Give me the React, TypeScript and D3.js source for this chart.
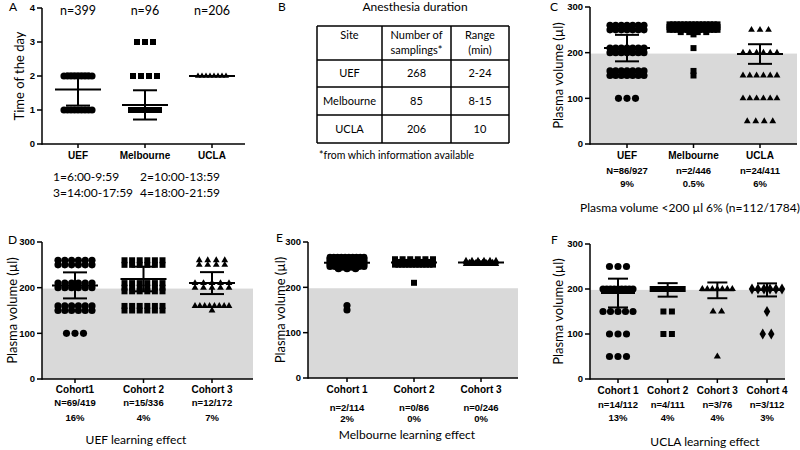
import React from "react";
import * as d3 from "d3";

type Row = [number, number]; // [value, count of points at that value]

// ---------- Panel A: time of the day ----------
const timeSites = ["UEF", "Melbourne", "UCLA"];
const timeN = ["n=399", "n=96", "n=206"];
const timeTicks = [0, 1, 2, 3, 4];
const timeRowsUEF: Row[] = [[1, 9], [2, 9]];
const timeRowsMelb: Row[] = [[1, 11], [2, 4], [3, 3]];
const timeRowsUCLA: Row[] = [[2, 8]];
const timeMeans = [1.6, 1.15, 2.0];
const timeSDs = [0.47, 0.43, 0];
const timeLegend = ["1=6:00-9:59", "2=10:00-13:59", "3=14:00-17:59", "4=18:00-21:59"];

// ---------- Panel B: anesthesia duration table ----------
const tableHeader = [["Site"], ["Number of", "samplings*"], ["Range", "(min)"]];
const tableSites = ["UEF", "Melbourne", "UCLA"];
const tableSamplings = ["268", "85", "206"];
const tableRanges = ["2-24", "8-15", "10"];

// ---------- Shared volume axis ----------
const volumeTicks = [0, 100, 200, 300];
const volumeThreshold = 198;

// ---------- Panel C: plasma volume per site ----------
const siteSites = ["UEF", "Melbourne", "UCLA"];
const siteN = ["N=86/927", "n=2/446", "n=24/411"];
const sitePct = ["9%", "0.5%", "6%"];
const siteRowsUEF: Row[] = [[260, 7], [250, 7], [210, 7], [200, 7], [160, 7], [150, 7], [100, 3]];
const siteRowsMelb: Row[] = [[262, 14], [256, 14], [250, 14], [245, 4], [240, 1], [210, 1], [160, 1], [150, 1]];
const siteRowsUCLA: Row[] = [[250, 3], [200, 6], [150, 6], [100, 6], [50, 4]];
const siteMeans = [210, 254, 197];
const siteSDs = [29, 3, 21.5];

// ---------- Panel D: UEF learning effect ----------
const uefCohorts = ["Cohort1", "Cohort 2", "Cohort 3"];
const uefN = ["N=69/419", "n=15/336", "n=12/172"];
const uefPct = ["16%", "4%", "7%"];
const uefRows1: Row[] = [[260, 6], [250, 6], [210, 6], [200, 6], [160, 6], [150, 6], [100, 3]];
const uefRows2: Row[] = [[260, 6], [250, 6], [210, 6], [200, 6], [192, 6], [160, 6], [150, 6]];
const uefRows3: Row[] = [[260, 4], [250, 4], [210, 5], [200, 5], [160, 8], [150, 1]];
const uefMeans = [205, 219, 210];
const uefSDs = [28.5, 27, 24];

// ---------- Panel E: Melbourne learning effect ----------
const melbCohorts = ["Cohort 1", "Cohort 2", "Cohort 3"];
const melbN = ["n=2/114", "n=0/86", "n=0/246"];
const melbPct = ["2%", "0%", "0%"];
const melbRows1: Row[] = [[266, 10], [261, 11], [256, 11], [251, 11], [246, 8], [241, 3], [160, 1], [150, 1]];
const melbRows2: Row[] = [[262, 6], [256, 12], [250, 12], [210, 1]];
const melbRows3: Row[] = [[259, 6], [255, 10], [251, 10]];
const melbMeans = [254, 255, 255];
const melbSDs = [15, 5, 2];

// ---------- Panel F: UCLA learning effect ----------
const uclaCohorts = ["Cohort 1", "Cohort 2", "Cohort 3", "Cohort 4"];
const uclaN = ["n=14/112", "n=4/111", "n=3/76", "n=3/112"];
const uclaPct = ["13%", "4%", "4%", "3%"];
const uclaRows1: Row[] = [[250, 3], [200, 9], [150, 5], [100, 3], [50, 3]];
const uclaRows2: Row[] = [[200, 8], [150, 2], [100, 2]];
const uclaRows3: Row[] = [[200, 7], [150, 2], [50, 1]];
const uclaRows4: Row[] = [[200, 6], [150, 1], [100, 2]];
const uclaMeans = [191, 198, 197, 198];
const uclaSDs = [32, 15, 17.5, 14.5];

const SANS = "Lato, 'Open Sans', sans-serif";
const BOLD = "'Liberation Sans', Arial, sans-serif";

type Group = { shape: d3.SymbolType; size: number; rows: Row[]; mean: number; sd: number; span?: number };
type PanelCfg = {
  letter: string;
  letterPos: [number, number];
  axisX: number;
  yTop: number;
  yBot: number;
  xEnd: number;
  domain: [number, number];
  ticks: number[];
  catRange: [number, number];
  categories: string[];
  groups: Group[];
  gray?: number;
  labelY: number;
  subLines: { texts: string[]; y: number }[];
  yTitle: string;
  yTitleX: number;
  maxSpan: number;
  maxGap: number;
  meanW: number;
  capW: number;
  title?: { text: string; x: number; y: number };
};

const Panel = ({ c }: { c: PanelCfg }) => {
  const y = d3.scaleLinear().domain(c.domain).range([c.yBot, c.yTop]);
  const x = d3.scalePoint<string>().domain(c.categories).range(c.catRange);
  return (
    <g>
      {c.gray !== undefined && (
        <rect x={c.axisX} y={y(c.gray)} width={c.xEnd - c.axisX} height={c.yBot - y(c.gray)} fill="#d9d9d9" />
      )}
      {c.groups.map((g, gi) => {
        const cx = x(c.categories[gi]) as number;
        const sym = d3.symbol(g.shape, g.size)() as string;
        const span = g.span ?? c.maxSpan;
        return (
          <g key={gi}>
            {g.rows.map(([v, n], ri) => {
              const gap = n > 1 ? Math.min(c.maxGap, span / (n - 1)) : 0;
              return d3.range(n).map((i) => (
                <path key={ri + "-" + i} d={sym} transform={`translate(${cx + (i - (n - 1) / 2) * gap},${y(v)})`} fill="#000" />
              ));
            })}
            <g stroke="#000" strokeWidth={2}>
              <line x1={cx} x2={cx} y1={y(g.mean - g.sd)} y2={y(g.mean + g.sd)} />
              <line x1={cx - c.capW / 2} x2={cx + c.capW / 2} y1={y(g.mean - g.sd)} y2={y(g.mean - g.sd)} />
              <line x1={cx - c.capW / 2} x2={cx + c.capW / 2} y1={y(g.mean + g.sd)} y2={y(g.mean + g.sd)} />
              <line x1={cx - c.meanW / 2} x2={cx + c.meanW / 2} y1={y(g.mean)} y2={y(g.mean)} />
            </g>
          </g>
        );
      })}
      <g stroke="#000" strokeWidth={1.5}>
        <line x1={c.axisX} x2={c.axisX} y1={c.yTop} y2={c.yBot + 0.75} />
        <line x1={c.axisX} x2={c.xEnd} y1={c.yBot} y2={c.yBot} />
        {c.ticks.map((t) => (
          <line key={t} x1={c.axisX - 5} x2={c.axisX} y1={y(t)} y2={y(t)} />
        ))}
        {c.categories.map((k) => (
          <line key={k} x1={x(k)} x2={x(k)} y1={c.yBot} y2={c.yBot + 4} />
        ))}
      </g>
      {c.ticks.map((t) => (
        <text key={t} x={c.axisX - 7} y={y(t)} dy="0.35em" textAnchor="end" fontFamily={BOLD} fontWeight="bold" fontSize={9.5}>
          {t}
        </text>
      ))}
      {c.categories.map((k) => (
        <text key={k} x={x(k)} y={c.labelY} dy="0.35em" textAnchor="middle" fontFamily={BOLD} fontWeight="bold" fontSize={10}>
          {k}
        </text>
      ))}
      {c.subLines.map((s, si) =>
        s.texts.map((t, ti) => (
          <text key={si + "-" + ti} x={x(c.categories[ti])} y={s.y} dy="0.35em" textAnchor="middle" fontFamily={BOLD} fontWeight="bold" fontSize={9.5}>
            {t}
          </text>
        ))
      )}
      <text
        transform={`translate(${c.yTitleX},${(c.yTop + c.yBot) / 2}) rotate(-90)`}
        textAnchor="middle"
        dy="0.35em"
        fontFamily={SANS}
        fontSize={13}
      >
        {c.yTitle}
      </text>
      <text x={c.letterPos[0]} y={c.letterPos[1]} dy="0.35em" fontFamily={SANS} fontSize={12}>
        {c.letter}
      </text>
      {c.title && (
        <text x={c.title.x} y={c.title.y} dy="0.35em" textAnchor="middle" fontFamily={SANS} fontSize={12}>
          {c.title.text}
        </text>
      )}
    </g>
  );
};

const circle = d3.symbolCircle;
const square = d3.symbolSquare;
const triangle = d3.symbolTriangle;
const diamond = d3.symbolDiamond;

const mk = (shape: d3.SymbolType, size: number, rows: Row[], mean: number, sd: number, span?: number): Group => ({
  shape,
  size,
  rows,
  mean,
  sd,
  span,
});

const panelA: PanelCfg = {
  letter: "A",
  letterPos: [9, 7],
  axisX: 42,
  yTop: 8,
  yBot: 144,
  xEnd: 245,
  domain: [0, 4],
  ticks: timeTicks,
  catRange: [78, 212],
  categories: timeSites,
  groups: [
    mk(circle, 40, timeRowsUEF, timeMeans[0], timeSDs[0]),
    mk(square, 36, timeRowsMelb, timeMeans[1], timeSDs[1]),
    mk(triangle, 16, timeRowsUCLA, timeMeans[2], timeSDs[2]),
  ],
  labelY: 155,
  subLines: [],
  yTitle: "Time of the day",
  yTitleX: 19,
  maxSpan: 28,
  maxGap: 8,
  meanW: 46,
  capW: 24,
};

const panelC: PanelCfg = {
  letter: "C",
  letterPos: [550, 7],
  axisX: 590,
  yTop: 7,
  yBot: 144,
  xEnd: 797,
  domain: [0, 300],
  ticks: volumeTicks,
  catRange: [627, 760],
  categories: siteSites,
  groups: [
    mk(circle, 40, siteRowsUEF, siteMeans[0], siteSDs[0]),
    mk(square, 36, siteRowsMelb, siteMeans[1], siteSDs[1], 48),
    mk(triangle, 20, siteRowsUCLA, siteMeans[2], siteSDs[2]),
  ],
  gray: volumeThreshold,
  labelY: 155,
  subLines: [
    { texts: siteN, y: 171 },
    { texts: sitePct, y: 184 },
  ],
  yTitle: "Plasma volume (µl)",
  yTitleX: 558,
  maxSpan: 34,
  maxGap: 8.5,
  meanW: 46,
  capW: 24,
  title: { text: "Plasma volume <200 µl 6% (n=112/1784)", x: 690, y: 208 },
};

const panelD: PanelCfg = {
  letter: "D",
  letterPos: [8, 240],
  axisX: 42,
  yTop: 242,
  yBot: 379,
  xEnd: 253,
  domain: [0, 300],
  ticks: volumeTicks,
  catRange: [75, 212],
  categories: uefCohorts,
  groups: [
    mk(circle, 40, uefRows1, uefMeans[0], uefSDs[0]),
    mk(square, 36, uefRows2, uefMeans[1], uefSDs[1], 38),
    mk(triangle, 20, uefRows3, uefMeans[2], uefSDs[2]),
  ],
  gray: volumeThreshold,
  labelY: 389,
  subLines: [
    { texts: uefN, y: 403 },
    { texts: uefPct, y: 418 },
  ],
  yTitle: "Plasma volume (µl)",
  yTitleX: 12,
  maxSpan: 34,
  maxGap: 8.5,
  meanW: 46,
  capW: 24,
  title: { text: "UEF learning effect", x: 136, y: 440 },
};

const panelE: PanelCfg = {
  letter: "E",
  letterPos: [276, 238],
  axisX: 308,
  yTop: 242,
  yBot: 378,
  xEnd: 518,
  domain: [0, 300],
  ticks: volumeTicks,
  catRange: [347, 481],
  categories: melbCohorts,
  groups: [
    mk(circle, 40, melbRows1, melbMeans[0], melbSDs[0], 34),
    mk(square, 36, melbRows2, melbMeans[1], melbSDs[1], 38),
    mk(triangle, 18, melbRows3, melbMeans[2], melbSDs[2], 30),
  ],
  gray: volumeThreshold,
  labelY: 389,
  subLines: [
    { texts: melbN, y: 408 },
    { texts: melbPct, y: 419 },
  ],
  yTitle: "Plasma volume (µl)",
  yTitleX: 280,
  maxSpan: 34,
  maxGap: 8.5,
  meanW: 46,
  capW: 24,
  title: { text: "Melbourne learning effect", x: 407, y: 435 },
};

const panelF: PanelCfg = {
  letter: "F",
  letterPos: [551, 240],
  axisX: 590,
  yTop: 244,
  yBot: 379,
  xEnd: 785,
  domain: [0, 300],
  ticks: volumeTicks,
  catRange: [618, 767],
  categories: uclaCohorts,
  groups: [
    mk(circle, 40, uclaRows1, uclaMeans[0], uclaSDs[0]),
    mk(square, 36, uclaRows2, uclaMeans[1], uclaSDs[1]),
    mk(triangle, 22, uclaRows3, uclaMeans[2], uclaSDs[2]),
    mk(diamond, 36, uclaRows4, uclaMeans[3], uclaSDs[3]),
  ],
  gray: volumeThreshold,
  labelY: 390,
  subLines: [
    { texts: uclaN, y: 405 },
    { texts: uclaPct, y: 418 },
  ],
  yTitle: "Plasma volume (µl)",
  yTitleX: 558,
  maxSpan: 30,
  maxGap: 8.5,
  meanW: 34,
  capW: 20,
  title: { text: "UCLA learning effect", x: 705, y: 442 },
};

const TableB = () => {
  const colX = [317, 382, 451, 509];
  const rowY = [26, 60, 87, 115, 143];
  const cols = [tableSites, tableSamplings, tableRanges];
  return (
    <g fontFamily={SANS} fontSize={11}>
      <text x={278} y={7} dy="0.35em" fontSize={12}>B</text>
      <text x={415} y={7} dy="0.35em" fontSize={12} textAnchor="middle">Anesthesia duration</text>
      <g stroke="#000" strokeWidth={1.5}>
        {colX.map((cx) => (
          <line key={cx} x1={cx} x2={cx} y1={rowY[0]} y2={rowY[rowY.length - 1]} />
        ))}
        {rowY.map((ry) => (
          <line key={ry} x1={colX[0]} x2={colX[colX.length - 1]} y1={ry} y2={ry} />
        ))}
      </g>
      {tableHeader.map((lines, ci) =>
        lines.map((t, li) => (
          <text key={ci + "-" + li} x={(colX[ci] + colX[ci + 1]) / 2} y={35 + li * 15} dy="0.35em" textAnchor="middle">
            {t}
          </text>
        ))
      )}
      {cols.map((col, ci) =>
        col.map((t, ri) => (
          <text key={ci + "-" + ri} x={(colX[ci] + colX[ci + 1]) / 2} y={(rowY[ri + 1] + rowY[ri + 2]) / 2} dy="0.35em" textAnchor="middle">
            {t}
          </text>
        ))
      )}
      <text x={319} y={155} dy="0.35em" fontSize={10.5}>*from which information available</text>
    </g>
  );
};

export default function App() {
  const xA = d3.scalePoint<string>().domain(timeSites).range(panelA.catRange);
  return (
    <svg width={800} height={450} style={{ position: "absolute", left: 0, top: 0, background: "#fff" }}>
      <rect width={800} height={450} fill="#fff" />
      <Panel c={panelA} />
      {timeN.map((t, i) => (
        <text key={t} x={xA(timeSites[i])} y={11} dy="0.35em" textAnchor="middle" fontFamily={SANS} fontSize={12.5}>
          {t}
        </text>
      ))}
      {timeLegend.map((t, i) => (
        <text key={t} x={i % 2 === 0 ? 53 : 140} y={i < 2 ? 177 : 193} dy="0.35em" fontFamily={SANS} fontSize={12}>
          {t}
        </text>
      ))}
      <TableB />
      <Panel c={panelC} />
      <Panel c={panelD} />
      <Panel c={panelE} />
      <Panel c={panelF} />
    </svg>
  );
}
